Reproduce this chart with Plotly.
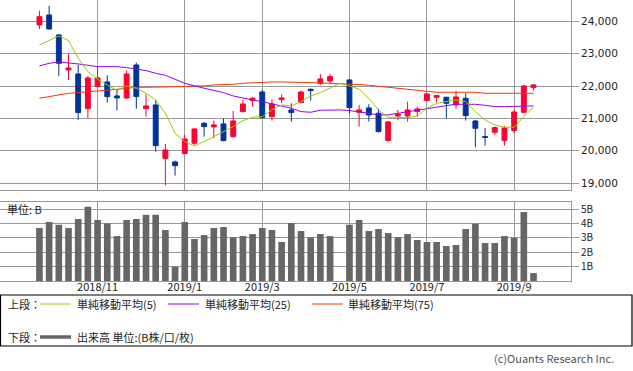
import pandas as pd
import plotly.graph_objects as go

# ---- data (weekly) ----
weeks = pd.date_range("2018-09-24", periods=52, freq="7D")

open_ = [23887, 24196, 23578, 22496, 22373, 21301, 21981, 22125, 21693, 21631,
         22651, 21301, 21415, 19756, 19653, 19911, 20230, 20848, 20735, 20828,
         20436, 21209, 21549, 21816, 21054, 21580, 21260, 21487, 21899, 22084,
         22156, None, 22187, 21188, 21322, 21157, 20313, 21075, 21075, 21209,
         21549, 21651, 21651, 21415, 21621, 20920, 20436, 20570, 20313, 20622,
         21188, 21950]
high = [24330, 24474, 23609, 22991, 22651, 22311, 22599, 22331, 21899, 22476,
        22723, 21744, 21569, 20210, 19695, 20488, 20694, 20889, 20931, 20992,
        21229, 21569, 21672, 21878, 21590, 21744, 21466, 21858, 21919, 22373,
        22373, None, 22218, 21415, 21435, 21301, 20920, 21260, 21518, 21363,
        21775, 21724, 21672, 21858, 21775, 20951, 20704, 20745, 20766, 21260,
        22033, 22064]
low = [23763, 23732, 22311, 22187, 20951, 21013, 21960, 21487, 21240, 21600,
       21301, 21054, 19973, 18932, 19231, 19901, 20179, 20436, 20385, 20292,
       20405, 21178, 21363, 20992, 20931, 21466, 20900, 21466, 21549, 22033,
       22084, None, 21157, 20745, 20900, 20560, 20282, 20951, 20900, 21054,
       21538, 21487, 21003, 21301, 20931, 20107, 20158, 20488, 20158, 20539,
       21157, 21858]
close = [24144, 23763, 22702, 22558, 21178, 22249, 22249, 21672, 21631, 22373,
         21672, 21384, 20158, 20024, 19540, 20364, 20673, 20745, 20797, 20313,
         20920, 21446, 21621, 21023, 21446, 21631, 21178, 21816, 21858, 22218,
         22290, None, 21332, 21260, 21106, 20591, 20889, 21126, 21260, 21291,
         21754, 21703, 21466, 21662, 21085, 20694, 20416, 20714, 20704, 21198,
         22002, 22033]

volume = [3.68, 4.10, 3.91, 3.68, 4.31, 5.16, 4.24, 4.00, 3.12, 4.24,
          4.31, 4.60, 4.60, 3.54, 0.99, 4.10, 2.92, 3.19, 3.68, 3.75,
          3.03, 3.12, 3.26, 3.68, 3.54, 2.71, 4.03, 3.47, 3.03, 3.26,
          3.12, None, 3.91, 4.24, 3.47, 3.61, 3.33, 3.03, 3.26, 2.85,
          2.71, 2.71, 2.43, 2.50, 3.61, 3.98, 2.64, 2.64, 3.12, 3.01,
          4.79, 0.55]

ma5 = [23269, 23403, 23547, 23403, 22857, 22445, 22208, 22033, 21858, 22002,
       21930, 21775, 21569, 21157, 20539, 20282, 20148, 20282, 20436, 20591,
       20745, 20931, 21034, 21054, 21260, 21415, 21384, 21518, 21693, 21796,
       21930, 22084, 22002, 21899, 21621, 21260, 21034, 21034, 21023, 21075,
       21312, 21466, 21518, 21569, 21518, 21209, 20951, 20797, 20725, 20725,
       21054, 21343]
ma25 = [22620, 22702, 22743, 22723, 22682, 22640, 22599, 22599, 22599, 22568,
        22527, 22476, 22393, 22331, 22208, 22084, 22002, 21940, 21878, 21796,
        21693, 21621, 21569, 21518, 21446, 21384, 21312, 21209, 21188, 21250,
        21260, 21260, 21240, 21209, 21157, 21106, 21106, 21157, 21209, 21260,
        21312, 21363, 21394, 21435, 21446, 21435, 21404, 21363, 21363, 21363,
        21363, 21384]
ma75 = [21621, 21672, 21724, 21775, 21796, 21816, 21858, 21878, 21899, 21930,
        21961, 21961, 21961, 21961, 21961, 21981, 22002, 22002, 22033, 22033,
        22053, 22084, 22105, 22105, 22125, 22125, 22125, 22125, 22105, 22095,
        22084, 22084, 22074, 22043, 22022, 21992, 21961, 21930, 21899, 21858,
        21837, 21806, 21806, 21806, 21806, 21806, 21775, 21775, 21775, 21775,
        21775, 21775]

tick_dates = ["2018-11-05", "2019-01-07", "2019-03-04", "2019-05-06", "2019-07-01", "2019-09-02"]
tick_labels = ["2018/11", "2019/1", "2019/3", "2019/5", "2019/7", "2019/9"]
price_ticks = [19000, 20000, 21000, 22000, 23000, 24000]
vol_ticks = [1, 2, 3, 4, 5]
vol_labels = ["1B", "2B", "3B", "4B", "5B"]

# ---- styles ----
W, H = 633, 371
RED = "#FF0033"
BLUE = "#003399"
GRID = "#9a9a9a"
CJK = "Noto Sans CJK JP"

def px(x):
    return x / W

def py(y):
    return 1 - y / H

valid = [i for i in range(len(weeks)) if open_[i] is not None]

fig = go.Figure()
fig.add_trace(go.Candlestick(
    x=[weeks[i] for i in valid],
    open=[open_[i] for i in valid], high=[high[i] for i in valid],
    low=[low[i] for i in valid], close=[close[i] for i in valid],
    increasing=dict(line=dict(color=RED, width=1), fillcolor=RED),
    decreasing=dict(line=dict(color=BLUE, width=1), fillcolor=BLUE),
    whiskerwidth=0, xaxis="x", yaxis="y", showlegend=False, hoverinfo="skip"))

for vals, col in [(ma75, "#FF3300"), (ma25, "#9900FF"), (ma5, "#99CC00")]:
    fig.add_trace(go.Scatter(x=weeks, y=vals, mode="lines",
                             line=dict(color=col, width=1),
                             xaxis="x", yaxis="y", showlegend=False, hoverinfo="skip"))

fig.add_trace(go.Bar(
    x=[weeks[i] for i in valid], y=[volume[i] for i in valid],
    marker=dict(color="#666666", line=dict(width=0)),
    width=4.8 * 86400000, xaxis="x2", yaxis="y2", showlegend=False, hoverinfo="skip"))

xrange = ["2018-08-26 12:00", "2019-10-13 02:00"]
xdom = [0, px(571)]

common_x = dict(type="date", range=xrange, domain=xdom, tickvals=tick_dates,
                showgrid=True, gridcolor=GRID, gridwidth=1,
                showline=True, linecolor=GRID, linewidth=1, mirror=True,
                zeroline=False, fixedrange=True)

fig.update_layout(
    width=W, height=H,
    margin=dict(l=0, r=0, t=0, b=0),
    paper_bgcolor="white", plot_bgcolor="white",
    boxgap=0.28,
    font=dict(family=CJK, size=11, color="#222222"),
    xaxis=dict(**common_x, showticklabels=False, ticks="", anchor="y",
               rangeslider=dict(visible=False)),
    xaxis2=dict(**common_x, ticktext=tick_labels, showticklabels=True, ticks="",
                ticklabelstandoff=-4,
                tickfont=dict(family=CJK, size=11, color="#222222"), anchor="y2"),
    yaxis=dict(domain=[py(190), 1.0], range=[18786, 24658], side="right",
               tickvals=price_ticks, ticktext=[f"{v:,}" for v in price_ticks],
               ticks="outside", ticklen=7, tickcolor=GRID,
               tickfont=dict(family="DejaVu Sans", size=10.5, color="#222222"),
               showgrid=True, gridcolor=GRID, showline=True, linecolor=GRID,
               mirror=True, zeroline=False, anchor="x", fixedrange=True),
    yaxis2=dict(domain=[py(281), py(202)], range=[0, 5.49], side="right",
                tickvals=vol_ticks, ticktext=vol_labels,
                ticks="outside", ticklen=7, tickcolor=GRID,
                tickfont=dict(family=CJK, size=10, color="#222222"),
                showgrid=True, gridcolor=GRID, showline=True, linecolor=GRID,
                mirror=True, zeroline=False, anchor="x2", fixedrange=True),
)

shapes = []
annotations = []

annotations.append(dict(text="単位: B", x=px(5), y=py(209), xref="paper", yref="paper",
                        xanchor="left", yanchor="middle", showarrow=False,
                        font=dict(family=CJK, size=11, color="#222222")))

# legend box
shapes.append(dict(type="rect", xref="paper", yref="paper",
                   x0=px(0.5), x1=px(632), y0=py(346), y1=py(295),
                   line=dict(color="black", width=1.2), fillcolor="rgba(0,0,0,0)"))

def leg_line(x0, x1, y, color, width):
    shapes.append(dict(type="line", xref="paper", yref="paper",
                       x0=px(x0), x1=px(x1), y0=py(y), y1=py(y),
                       line=dict(color=color, width=width)))

def leg_text(text, x, y, anchor="left", color="#222222", size=11):
    annotations.append(dict(text=text, x=px(x), y=py(y), xref="paper", yref="paper",
                            xanchor=anchor, yanchor="middle", showarrow=False,
                            borderpad=0,
                            font=dict(family=CJK, size=size, color=color)))

leg_text("上段：", 7, 304)
leg_line(40, 71, 304, "#99CC00", 1)
leg_text("単純移動平均(5)", 76, 304)
leg_line(168, 199, 304, "#9900FF", 1)
leg_text("単純移動平均(25)", 204, 304)
leg_line(312, 343, 304, "#FF3300", 1)
leg_text("単純移動平均(75)", 347, 304)

leg_text("下段：", 7, 337)
leg_line(40, 71, 337, "#666666", 3.5)
leg_text("出来高 単位:(B株/口/枚)", 76, 337)

leg_text("(c)Ouants Research Inc.", 615, 358, anchor="right", color="#555555", size=11)

fig.update_layout(shapes=shapes, annotations=annotations)

fig.write_html("out.html", config={"displayModeBar": False},
               post_script="document.body.style.margin='0';document.body.style.overflow='hidden';")
